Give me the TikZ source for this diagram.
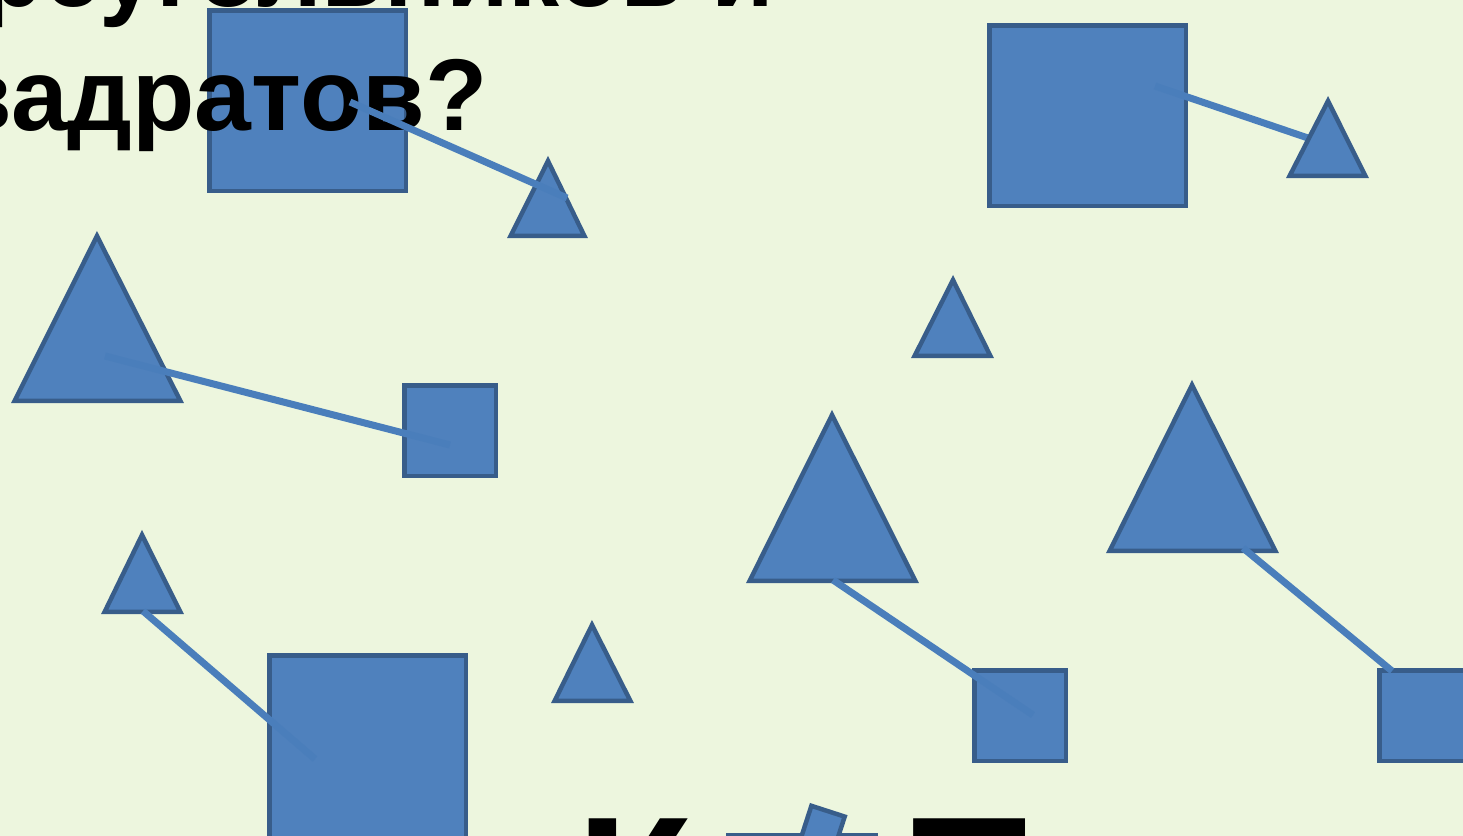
\documentclass[tikz,border=0pt]{standalone}
\usepackage{fontspec}
\setmainfont{Liberation Sans}
\definecolor{bgcol}{RGB}{237,246,222}
\definecolor{figfill}{RGB}{79,129,189}
\definecolor{figline}{RGB}{56,93,138}
\definecolor{linkcol}{RGB}{74,126,187}
\newcommand\mysq[4]{\draw[figbox] ({#1+2.25},{#2+2.25}) rectangle ({#3-2.25},{#4-2.25});}
\newcommand\mytri[5]{\draw[figbox] (#1,{#2+5}) -- ({#3+3.7},{#5-2.25}) -- ({#4-3.7},{#5-2.25}) -- cycle;}
\begin{document}
\begin{tikzpicture}[x=0.5pt,y=-0.5pt,
  figbox/.style={fill=figfill,draw=figline,line width=2.25pt,line join=miter},
  connector/.style={draw=linkcol,line width=3.5pt},
  titletext/.style={font=\fontsize{51}{61}\selectfont\bfseries,inner sep=0pt,text=black},
  bigtext/.style={font=\fontsize{95}{114}\selectfont\bfseries,inner sep=0pt,text=black}]
\useasboundingbox (0,0) rectangle (1463,836);
\fill[bgcol] (0,0) rectangle (1463,836);
% top-left square and title
\mysq{207}{8}{408}{193}
\node[titletext,anchor=base east] (line1) at (775,6) {треугольников и};
\node[titletext,anchor=base east] (line2) at (488,130) {квадратов?};
\mytri{548}{156}{507}{588}{238}
\coordinate (c1a) at (350,102); \coordinate (c1b) at (567,198);
\draw[connector] (c1a) -- (c1b);
% top-right pair
\mysq{987}{23}{1188}{208}
\coordinate (c2a) at (1155,86); \coordinate (c2b) at (1308,138);
\draw[connector] (c2a) -- (c2b);
\mytri{1328}{96}{1286}{1369}{178}
% left pair
\mytri{97}{231}{11}{184}{403}
\mysq{402}{383}{498}{478}
\coordinate (c3a) at (105,356); \coordinate (c3b) at (450,445);
\draw[connector] (c3a) -- (c3b);
% lone small triangles
\mytri{953}{275}{911}{994}{358}
\mytri{592}{620}{551}{634}{703}
% middle pair
\mytri{832}{410}{746}{919}{583}
\mysq{972}{668}{1068}{763}
\coordinate (c5a) at (833,580); \coordinate (c5b) at (1033,715);
\draw[connector] (c5a) -- (c5b);
% bottom-left pair
\mytri{142}{530}{101}{184}{614}
\mysq{267}{653}{468}{860}
\coordinate (c4a) at (143,611); \coordinate (c4b) at (315,759);
\draw[connector] (c4a) -- (c4b);
% right pair
\mytri{1192}{380}{1106}{1279}{553}
\mysq{1377}{668}{1473}{763}
\coordinate (c6a) at (1243,548); \coordinate (c6b) at (1392,671);
\draw[connector] (c6a) -- (c6b);
% bottom text and shapes
\node[bigtext,anchor=north west] (kletter) at (576,818) {К};
\node[bigtext,anchor=north west] (tletter) at (911,818) {Т};
\draw[figbox] (728,835) rectangle (876,900);
\draw[figbox] (811.4,805.8) -- (844.7,816.6) -- (833.9,849.9) -- (800.6,839.1) -- cycle;
\end{tikzpicture}
\end{document}
